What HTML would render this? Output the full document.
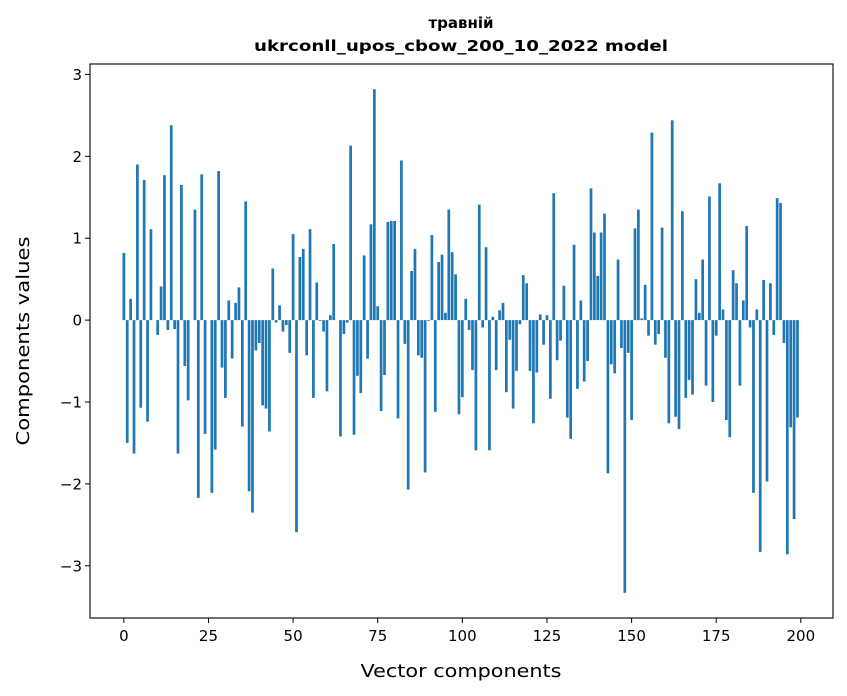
<!DOCTYPE html>
<html><head><meta charset="utf-8"><style>
body{margin:0;background:#fff;}
svg{display:block;font-family:"DejaVu Sans","Liberation Sans",sans-serif;}
</style></head><body>
<svg id="chart" width="847" height="696">
<text x="461" y="28" text-anchor="middle" font-size="15" font-weight="bold">травній</text>
<text x="461" y="51" text-anchor="middle" font-size="15" font-weight="bold" textLength="414" lengthAdjust="spacingAndGlyphs">ukrconll_upos_cbow_200_10_2022 model</text>
<g id="bars"></g>
<g id="axes"></g>
<text x="461" y="677" text-anchor="middle" font-size="18" textLength="201" lengthAdjust="spacingAndGlyphs">Vector components</text>
<text transform="translate(29,341) rotate(-90)" text-anchor="middle" font-size="18" textLength="209" lengthAdjust="spacingAndGlyphs">Components values</text>
</svg>
<script>
const values = [0.82,-1.50,0.26,-1.63,1.90,-1.07,1.71,-1.24,1.11,0.0,
-0.18,0.41,1.77,-0.12,2.38,-0.11,-1.63,1.65,-0.56,-0.98,
0.0,1.35,-2.17,1.78,-1.39,0.0,-2.11,-1.58,1.82,-0.58,
-0.95,0.24,-0.47,0.21,0.40,-1.30,1.45,-2.09,-2.35,-0.37,
-0.28,-1.04,-1.08,-1.36,0.63,-0.03,0.18,-0.14,-0.06,-0.40,
1.05,-2.59,0.77,0.87,-0.43,1.11,-0.95,0.46,-0.01,-0.14,
-0.87,0.06,0.93,0.0,-1.42,-0.17,-0.03,2.13,-1.40,-0.68,
-0.89,0.79,-0.47,1.17,2.82,0.17,-1.11,-0.67,1.20,1.21,
1.21,-1.20,1.95,-0.29,-2.07,0.60,0.87,-0.43,-0.46,-1.86,
-0.01,1.04,-1.12,0.71,0.80,0.09,1.35,0.83,0.56,-1.15,
-0.94,0.26,-0.12,-0.61,-1.59,1.41,-0.09,0.89,-1.59,0.04,
-0.61,0.12,0.21,-0.88,-0.24,-1.08,-0.62,-0.05,0.55,0.45,
-0.62,-1.26,-0.64,0.07,-0.30,0.06,-0.96,1.55,-0.49,-0.25,
0.42,-1.19,-1.45,0.92,-0.84,0.24,-0.75,-0.50,1.61,1.07,
0.54,1.07,1.30,-1.87,-0.54,-0.65,0.74,-0.34,-3.33,-0.40,
-1.22,1.12,1.35,0.02,0.43,-0.19,2.29,-0.30,-0.17,1.13,
-0.46,-1.26,2.44,-1.18,-1.33,1.33,-0.95,-0.73,-0.91,0.50,
0.09,0.74,-0.80,1.51,-1.00,-0.19,1.67,0.13,-1.22,-1.43,
0.61,0.45,-0.80,0.24,1.15,-0.09,-2.11,0.13,-2.83,0.49,
-1.97,0.45,-0.18,1.49,1.43,-0.28,-2.86,-1.31,-2.43,-1.19];
const xTicks = [0,25,50,75,100,125,150,175,200];
const yTicks = [-3,-2,-1,0,1,2,3];
const yTickLabels = ["\u22123","\u22122","\u22121","0","1","2","3"];

const NS="http://www.w3.org/2000/svg";
const L=90,R=833,T=64,B=618;
const xMin=-10.0,xMax=-10.0+(R-L)/3.385;
const vMin=Math.min(...values,0),vMax=Math.max(...values,0);
const pad=(vMax-vMin)*0.05;
const yMin=vMin-pad,yMax=vMax+pad;
function xs(v){return L+(v-xMin)/(xMax-xMin)*(R-L);}
function ys(v){return B-(v-yMin)/(yMax-yMin)*(B-T);}
function mk(tag,attrs,parent){const e=document.createElementNS(NS,tag);for(const k in attrs)e.setAttribute(k,attrs[k]);parent.appendChild(e);return e;}
const bars=document.getElementById('bars');
const w=xs(0.8)-xs(0);
values.forEach((v,i)=>{
  const y0=ys(0),y1=ys(v);
  const r=mk('rect',{x:xs(i)-w/2,y:Math.min(y0,y1),width:w,height:Math.abs(y1-y0),fill:'#1f77b4'},bars);
  
  
});
const ax=document.getElementById('axes');
const frame=mk('rect',{x:L,y:T,width:R-L,height:B-T,fill:'none',stroke:'#000','stroke-width':1.1},ax);


xTicks.forEach(t=>{
  const x=xs(t);
  mk('line',{x1:x,x2:x,y1:B,y2:B+5,stroke:'#000','stroke-width':1},ax);
  const tx=mk('text',{x:x,y:B+23,'text-anchor':'middle','font-size':15},ax);
  tx.textContent=t;
  
  
});
yTicks.forEach((t,i)=>{
  const y=ys(t);
  mk('line',{x1:L-5,x2:L,y1:y,y2:y,stroke:'#000','stroke-width':1},ax);
  const tx=mk('text',{x:L-8,y:y+5.5,'text-anchor':'end','font-size':15},ax);
  tx.textContent=yTickLabels[i];
  
  
});
</script>
</body></html>
